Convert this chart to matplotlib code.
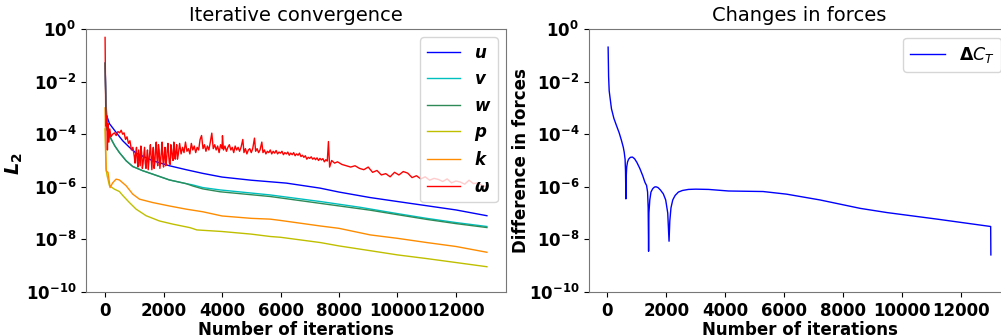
import numpy as np
import matplotlib
matplotlib.use("Agg")
import matplotlib.pyplot as plt
from matplotlib.ticker import MultipleLocator

# residuals, stored as log10 values
u_iter = [0, 30, 57, 150, 376, 604, 833, 1061, 1631, 2201, 2772, 3342, 4000, 5000, 6200,
          7350, 8000, 9070, 10000, 11000, 12000, 13060]
u_log = [-1.3, -2.8, -3.3, -3.6, -3.93, -4.25, -4.5, -4.72, -5.01, -5.2, -5.35, -5.49, -5.63,
         -5.75, -5.86, -6.05, -6.2, -6.41, -6.56, -6.72, -6.88, -7.1]

v_iter = [0, 30, 60, 148, 330, 490, 720, 947, 1290, 1631, 2201, 2772, 3000, 3342, 3936,
          5647, 7358, 8727, 10000, 11000, 12000, 13060]
v_log = [-1.3, -3.0, -3.8, -4.06, -4.44, -4.7, -5.01, -5.23, -5.39, -5.52, -5.74, -5.88, -5.93,
         -6.03, -6.12, -6.31, -6.56, -6.78, -7.02, -7.2, -7.36, -7.51]

w_iter = [0, 30, 60, 148, 330, 490, 720, 947, 1290, 1631, 2201, 2772, 3000, 3342, 3936,
          5647, 7358, 9069, 10000, 11000, 12000, 13060]
w_log = [-1.3, -3.0, -3.8, -4.06, -4.44, -4.7, -5.01, -5.23, -5.39, -5.52, -5.74, -5.88, -5.97,
         -6.08, -6.19, -6.37, -6.63, -6.89, -7.06, -7.24, -7.4, -7.55]

p_iter = [0, 30, 70, 150, 319, 490, 604, 833, 1061, 1403, 1860, 2316, 2886, 2950, 3137,
          3993, 5000, 5647, 6000, 7358, 8008, 9069, 10000, 11000, 12000, 13060]
p_log = [-3.8, -5.3, -5.58, -5.96, -6.09, -6.18, -6.33, -6.6, -6.85, -7.1, -7.3, -7.42, -7.55,
         -7.57, -7.64, -7.7, -7.8, -7.89, -7.92, -8.12, -8.25, -8.43, -8.59, -8.73, -8.88, -9.04]

k_iter = [0, 20, 40, 100, 171, 260, 376, 490, 719, 947, 1175, 1631, 2201, 2772, 3342, 4000,
          5000, 5647, 6000, 7358, 8000, 9069, 10000, 11000, 12000, 13060]
k_log = [-3.0, -4.5, -5.4, -5.45, -6.03, -5.85, -5.71, -5.74, -5.96, -6.28, -6.47, -6.6, -6.73,
         -6.85, -6.95, -7.11, -7.2, -7.23, -7.28, -7.49, -7.58, -7.83, -7.96, -8.12, -8.27, -8.49]

# (iteration, log10 residual) for the noisy omega history
omega_pts = [
    (0, -0.32), (20, -2.9), (40, -3.7), (60, -3.3), (80, -4.6), (100, -3.6), (130, -4.3),
    (160, -3.8), (200, -4.1), (260, -4.0), (320, -3.95), (380, -4.05), (440, -3.9),
    (500, -3.95), (550, -3.85), (600, -4.0), (650, -3.95), (700, -4.2), (750, -4.1),
    (800, -4.35), (850, -4.25), (900, -4.6), (950, -4.5), (1000, -4.85), (1050, -4.7),
    (1100, -5.0), (1150, -4.6), (1200, -5.2), (1250, -4.7), (1300, -5.1), (1350, -4.5),
    (1400, -5.3), (1450, -4.6), (1500, -5.0), (1550, -4.4), (1600, -5.35), (1650, -4.5),
    (1700, -5.1), (1750, -4.3), (1800, -5.2), (1850, -4.6), (1900, -5.0), (1950, -4.3),
    (2000, -5.25), (2050, -4.5), (2100, -5.0), (2150, -4.35), (2200, -5.1), (2250, -4.4),
    (2300, -4.9), (2350, -4.3), (2400, -4.95), (2450, -4.4), (2500, -4.8), (2550, -4.35),
    (1025, -5.1), (1075, -4.5), (1125, -5.25), (1175, -4.9), (1225, -4.45), (1275, -5.3),
    (1325, -4.8), (1375, -5.1), (1425, -4.9), (1475, -5.35), (1525, -4.7), (1575, -4.9),
    (1625, -4.8), (1675, -5.3), (1725, -4.6), (1775, -4.9), (1825, -4.4), (1875, -5.3),
    (1925, -4.7), (1975, -4.95), (2025, -4.75), (2075, -5.2), (2125, -4.6), (2175, -4.8),
    (2225, -5.15), (2275, -4.6), (2325, -5.0), (2375, -4.7), (2425, -4.6), (2475, -4.95),
    (2600, -4.75), (2650, -4.5), (2700, -4.7), (2750, -4.3), (2800, -4.65), (2850, -4.55),
    (2900, -4.75), (2950, -4.35), (3000, -4.6), (3050, -4.45), (3100, -4.7), (3150, -4.5),
    (3200, -4.6), (3250, -4.2), (3300, -4.05), (3350, -4.55), (3400, -4.4), (3450, -4.65),
    (3500, -4.45), (3550, -4.6), (3600, -4.3), (3650, -3.96), (3700, -4.55), (3750, -4.4),
    (3800, -4.6), (3850, -4.45), (3900, -4.7), (3950, -4.4), (4000, -4.55), (4015, -4.06),
    (4050, -4.6), (4100, -4.45), (4150, -4.65), (4200, -4.5), (4250, -4.4), (4300, -4.6),
    (4350, -4.5), (4400, -4.7), (4450, -4.45), (4500, -4.6), (4550, -4.5), (4600, -4.65),
    (4650, -4.5), (4711, -4.2), (4750, -4.7), (4800, -4.55), (4850, -4.75), (4900, -4.6),
    (4950, -4.55), (5000, -4.7), (5050, -4.55), (5110, -4.15), (5150, -4.65), (5200, -4.55),
    (5250, -4.7), (5300, -4.6), (5361, -4.3), (5400, -4.7), (5450, -4.6), (5500, -4.75),
    (5550, -4.65), (5600, -4.7), (5650, -4.6), (5700, -4.75), (5750, -4.65), (5800, -4.72),
    (5850, -4.62), (5900, -4.75), (5950, -4.68), (6000, -4.72), (6050, -4.65), (6100, -4.78),
    (6150, -4.7), (6200, -4.75), (6250, -4.68), (6300, -4.8), (6350, -4.72), (6400, -4.78),
    (6450, -4.7), (6500, -4.82), (6550, -4.75), (6600, -4.8), (6650, -4.72), (6700, -4.85),
    (6750, -4.8), (6800, -4.88), (6850, -4.82), (6900, -4.95), (6950, -4.88), (7000, -4.92),
    (7050, -4.86), (7100, -4.95), (7150, -4.9), (7200, -4.97), (7250, -4.9), (7300, -5.0),
    (7350, -4.92), (7400, -4.98), (7450, -4.93), (7500, -5.05), (7550, -4.97), (7600, -5.02),
    (7640, -4.28), (7680, -5.25), (7750, -5.0), (7850, -5.1), (7950, -5.05), (8100, -5.15),
    (8250, -5.2), (8400, -5.25), (8550, -5.2), (8700, -5.3), (8850, -5.35), (9000, -5.25),
    (9150, -5.45), (9300, -5.38), (9450, -5.55), (9600, -5.5), (9750, -5.62), (9900, -5.45),
    (10050, -5.55), (10200, -5.42), (10350, -5.48), (10500, -5.65), (10650, -5.58),
    (10800, -5.7), (10950, -5.62), (11100, -5.75), (11250, -5.68), (11400, -5.72),
    (11550, -5.8), (11700, -5.7), (11850, -5.85), (12000, -5.78), (12150, -5.82),
    (12300, -5.9), (12450, -5.75), (12600, -5.88), (12750, -5.85), (12900, -5.95),
    (13060, -6.0),
]
omega_pts.sort()
omega_iter = [p[0] for p in omega_pts]
omega_log = [p[1] for p in omega_pts]

# thrust coefficient change, (iteration, log10 difference)
ct_pts = [
    (24, -0.69), (40, -1.8), (60, -2.35), (80, -2.53), (137, -3.03), (220, -3.4),
    (307, -3.67), (400, -3.95), (478, -4.24), (540, -4.5), (570, -4.68), (600, -4.95),
    (615, -5.4), (628, -6.46), (640, -5.6), (655, -5.25), (683, -5.06), (720, -4.95),
    (780, -4.88), (850, -4.87), (920, -4.93), (1000, -5.07), (1100, -5.3), (1200, -5.58),
    (1275, -5.83), (1330, -5.95), (1365, -6.2), (1385, -6.8), (1399, -8.45), (1410, -7.0),
    (1440, -6.5), (1480, -6.2), (1540, -6.07), (1600, -6.01), (1651, -6.0), (1720, -6.03),
    (1800, -6.12), (1900, -6.27), (1980, -6.5), (2050, -7.0), (2094, -8.07), (2120, -7.3),
    (2160, -6.8), (2220, -6.5), (2300, -6.33), (2412, -6.2), (2550, -6.14), (2753, -6.1),
    (3000, -6.09), (3435, -6.1), (4117, -6.16), (5290, -6.18), (6087, -6.28), (7223, -6.5),
    (8588, -6.82), (9498, -6.98), (11205, -7.23), (13023, -7.51), (13030, -8.59),
]
ct_iter = [p[0] for p in ct_pts]
ct_log = [p[1] for p in ct_pts]

series = [
    (u_iter, u_log, "blue", r"$\boldsymbol{u}$"),
    (v_iter, v_log, "c", r"$\boldsymbol{v}$"),
    (w_iter, w_log, "seagreen", r"$\boldsymbol{w}$"),
    (p_iter, p_log, "y", r"$\boldsymbol{p}$"),
    (k_iter, k_log, "darkorange", r"$\boldsymbol{k}$"),
    (omega_iter, omega_log, "red", r"$\boldsymbol{\omega}$"),
]

fig = plt.figure(figsize=(10.01, 3.36), dpi=100)
ax1 = fig.add_axes([0.0859, 0.131, 0.4196, 0.7827])
ax2 = fig.add_axes([0.5884, 0.131, 0.4206, 0.7827])

for x, y, color, label in series:
    ax1.semilogy(x, 10 ** np.array(y), color=color, lw=1, label=label)
ax1.set_title("Iterative convergence", fontsize=14)
ax1.set_ylabel(r"$\boldsymbol{L}_\mathbf{2}$", fontsize=14)
ax1.yaxis.set_label_coords(-0.145, 0.49)
ax1.legend(loc="upper right", prop={"size": 12, "weight": "bold"})

ax2.semilogy(ct_iter, 10 ** np.array(ct_log), color="blue", lw=1, label=r"$\boldsymbol{\Delta C_T}$")
ax2.set_title("Changes in forces", fontsize=14)
ax2.set_ylabel("Difference in forces", fontsize=12, fontweight="bold")
ax2.yaxis.set_label_coords(-0.14, 0.5)
ax2.legend(loc="upper right", prop={"size": 12.5, "weight": "bold"})

for ax in (ax1, ax2):
    ax.set_ylim(1e-10, 1e0)
    ax.xaxis.set_major_locator(MultipleLocator(2000))
    ax.set_xlabel("Number of iterations", fontsize=12, fontweight="bold", labelpad=1)
    ax.tick_params(labelsize=12)
    for lab in ax.get_xticklabels() + ax.get_yticklabels():
        lab.set_fontweight("bold")
    for s in ax.spines.values():
        s.set_color("#777777")

fig.savefig("out.png", dpi=100)
